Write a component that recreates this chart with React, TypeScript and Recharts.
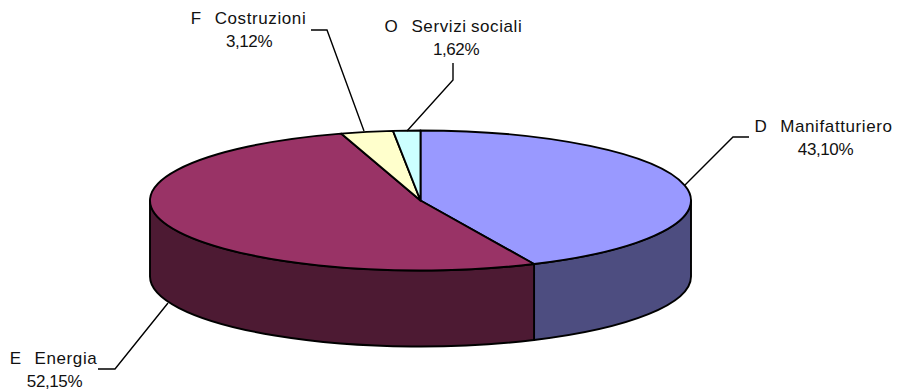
import { PieChart, Pie } from "recharts";

const categories = ["D   Manifatturiero", "E   Energia", "F   Costruzioni", "O   Servizi sociali"];
const shares = [43.1, 52.15, 3.12, 1.62];
const topColors = ["#9999FF", "#993366", "#FFFFCC", "#CCFFFF"];
const wallColors = ["#4D4D80", "#4D1A33", "#80805F", "#668080"];

const data = categories.map((name, i) => ({ name, value: shares[i] }));
const topData = data.map((d, i) => ({ ...d, fill: topColors[i] }));
const wallData = data.map((d, i) => ({ ...d, fill: wallColors[i] }));

// flattening of the disc and its thickness
const RATIO = 70 / 270.5;
const DEPTH = 76;

// name centre, percent centre, first baseline, then leader line bend points, per slice
const labelLayout = [
  { x: 823.5, pctX: 825.5, y: 132, line: [[685, 185], [733, 137], [749, 137]] },
  { x: 53.5, pctX: 54.5, y: 364, line: [[168, 303], [115, 369], [98, 369]] },
  { x: 248.5, pctX: 249, y: 24, line: [[364, 131], [327, 30], [311, 30]] },
  { x: 453.5, pctX: 456, y: 32, line: [[407, 131], [453, 80], [453, 63]] },
];

const point = (cx: number, cy: number, r: number, deg: number) => {
  const a = (deg * Math.PI) / 180;
  return { x: cx + r * Math.cos(a), y: cy - r * RATIO * Math.sin(a) };
};

function TopSlice(props: any) {
  const { cx, cy, outerRadius: r, startAngle, endAngle, fill } = props;
  const a = point(cx, cy, r, startAngle);
  const b = point(cx, cy, r, endAngle);
  const large = Math.abs(endAngle - startAngle) > 180 ? 1 : 0;
  return (
    <path
      d={`M${cx},${cy} L${a.x},${a.y} A${r},${r * RATIO} 0 ${large} 1 ${b.x},${b.y} Z`}
      fill={fill}
      stroke="#000"
      strokeWidth={1.9}
      strokeLinejoin="round"
    />
  );
}

function WallSlice(props: any) {
  const { cx, cy, outerRadius: r, startAngle, endAngle, fill } = props;
  // only the part of the rim facing the viewer (angles 0 to -180)
  const from = Math.min(startAngle, 0);
  const to = Math.max(endAngle, -180);
  if (from <= to) return null;
  const a = point(cx, cy, r, from);
  const b = point(cx, cy, r, to);
  const ry = r * RATIO;
  return (
    <path
      d={`M${a.x},${a.y} A${r},${ry} 0 0 1 ${b.x},${b.y} L${b.x},${b.y + DEPTH} A${r},${ry} 0 0 0 ${a.x},${a.y + DEPTH} Z`}
      fill={fill}
      stroke="#000"
      strokeWidth={1.9}
      strokeLinejoin="round"
    />
  );
}

function SliceLabel(props: any) {
  const { index, name, value } = props;
  const { x, pctX, y } = labelLayout[index];
  const font = { fontFamily: "'Liberation Sans', Arial, sans-serif", whiteSpace: "pre" as const };
  return (
    <g>
      <text
        x={x}
        y={y}
        textAnchor="middle"
        fill="#111"
        style={{ ...font, fontSize: 17, letterSpacing: 0.6, wordSpacing: -1 }}
      >
        {name}
      </text>
      <text
        x={pctX}
        y={y + 22.5}
        textAnchor="middle"
        fill="#111"
        style={{ ...font, fontSize: 17, letterSpacing: -0.4 }}
      >
        {value.toFixed(2).replace(".", ",")}%
      </text>
    </g>
  );
}

function LeaderLine(props: any) {
  const pts = labelLayout[props.index].line.map((p) => p.join(",")).join(" ");
  return <polyline points={pts} fill="none" stroke="#000" strokeWidth={1.4} />;
}

export default function App() {
  return (
    <div style={{ position: "absolute", left: 0, top: 0, width: 899, height: 392, background: "#fff" }}>
      <PieChart width={899} height={392} margin={{ top: 0, right: 0, bottom: 0, left: 0 }}>
        <Pie
          data={wallData}
          dataKey="value"
          nameKey="name"
          cx={420.5}
          cy={200.5}
          innerRadius={0}
          outerRadius={270.5}
          startAngle={90}
          endAngle={-270}
          shape={WallSlice}
          stroke="none"
          label={false}
          labelLine={false}
          isAnimationActive={false}
        />
        <Pie
          data={topData}
          dataKey="value"
          nameKey="name"
          cx={420.5}
          cy={200.5}
          innerRadius={0}
          outerRadius={270.5}
          startAngle={90}
          endAngle={-270}
          shape={TopSlice}
          label={SliceLabel}
          labelLine={LeaderLine}
          isAnimationActive={false}
        />
      </PieChart>
    </div>
  );
}
